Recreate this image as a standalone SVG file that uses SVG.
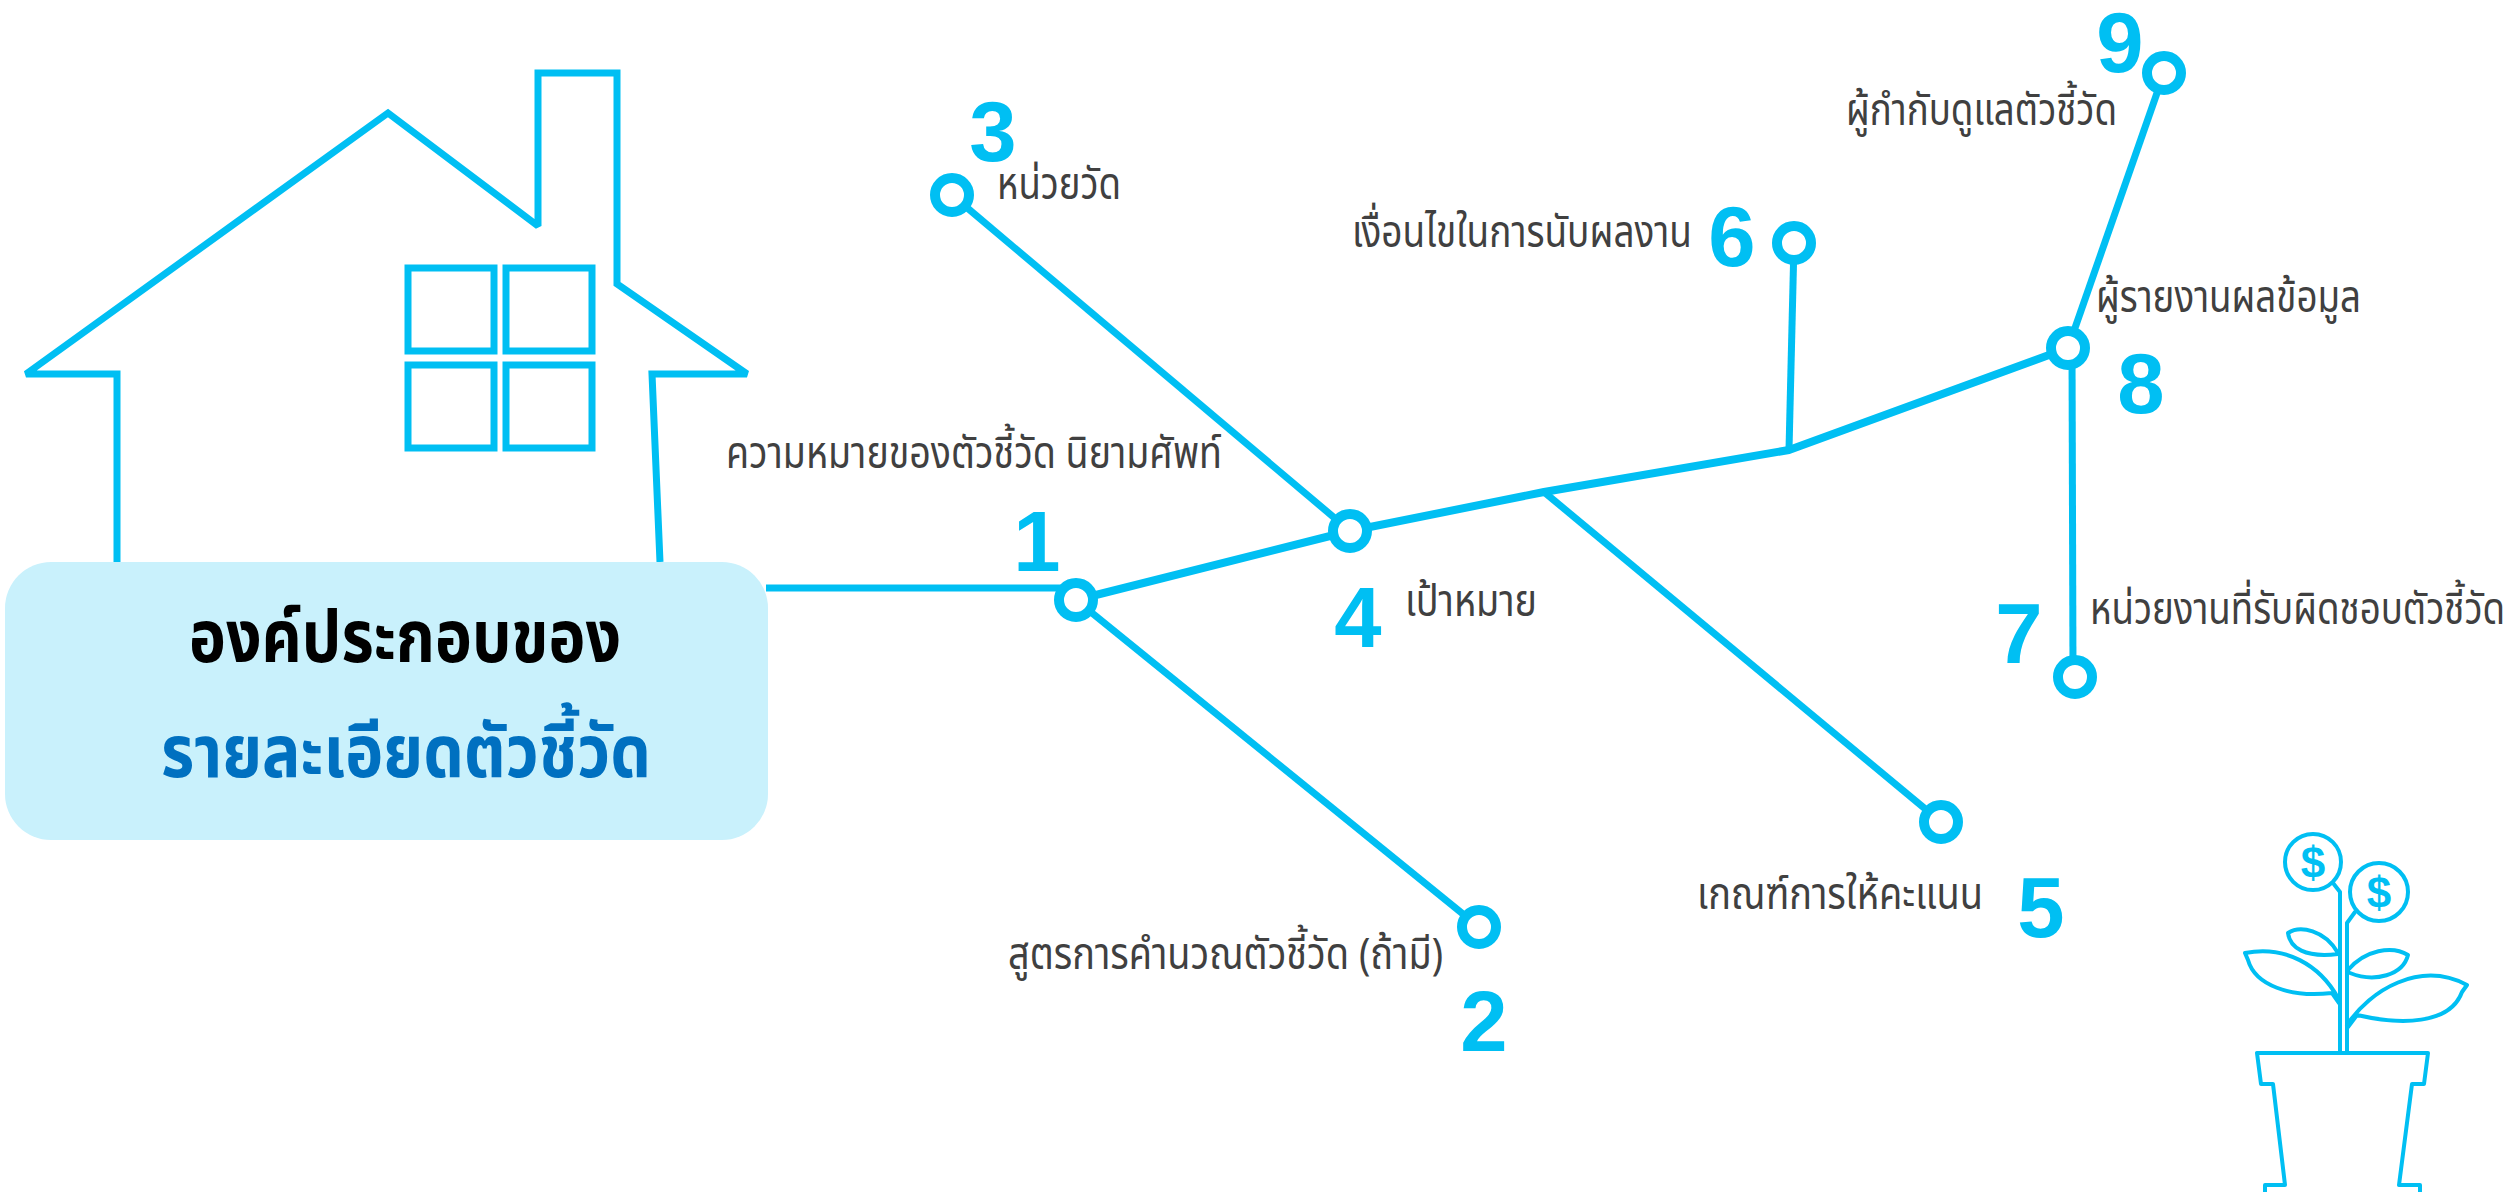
<svg xmlns="http://www.w3.org/2000/svg" width="2519" height="1192" viewBox="0 0 2519 1192">
  <style>
    .ln { fill: none; stroke: #00BFF3; stroke-width: 7; stroke-linecap: butt; stroke-linejoin: miter; stroke-miterlimit: 2; }
    .main { fill: none; stroke: #00BFF3; stroke-width: 8; stroke-linejoin: round; }
    .ring { fill: #FFFFFF; stroke: #00BFF3; stroke-width: 10; }
    .num { font-family: "Liberation Sans", Arial, sans-serif; font-weight: bold; font-size: 85px; fill: #00BFF3; text-anchor: middle; }
    .lbl { font-family: "Noto Sans Thai", "Noto Sans", "Liberation Sans", sans-serif; font-size: 44px; fill: #404040; }
    .ttl { font-family: "Noto Sans Thai", "Noto Sans", "Liberation Sans", sans-serif; font-weight: bold; font-size: 72px; text-anchor: middle; }
    .icon { fill: none; stroke: #00BFF3; stroke-width: 4; stroke-linejoin: round; stroke-linecap: round; }
  </style>

  <!-- house outline -->
  <g id="house">
    <path class="ln" d="M117,562 L117,374 L26,374 L388,113 L538,226 L538,73 L617,73 L617,284 L747,374 L652,374 L660,562"/>
    <rect class="ln" x="408" y="268" width="86" height="83"/>
    <rect class="ln" x="506" y="268" width="86" height="83"/>
    <rect class="ln" x="408" y="365" width="86" height="83"/>
    <rect class="ln" x="506" y="365" width="86" height="83"/>
  </g>

  <!-- connectors -->
  <g id="connectors">
    <path class="ln" d="M766,588 L1064,588"/>
    <path class="ln" d="M1076,600 L1479,927"/>
    <path class="ln" d="M952,195 L1350,531"/>
    <path class="main" d="M1076,600 L1350,531 L1544,492 L1789,450 L2068,348"/>
    <path class="ln" d="M1544,492 L1941,822"/>
    <path class="ln" d="M1789,450 L1794,243"/>
    <path class="ln" d="M2068,348 L2164,73"/>
    <path class="ln" d="M2072,348 L2073,677"/>
  </g>

  <!-- title box -->
  <g id="title">
    <rect x="5" y="562" width="763" height="278" rx="46" ry="46" fill="#C9F1FC"/>
    <text class="ttl" x="405" y="662" fill="#000000" textLength="432" lengthAdjust="spacingAndGlyphs">องค์ประกอบของ</text>
    <text class="ttl" x="406" y="777" fill="#0070C0" textLength="490" lengthAdjust="spacingAndGlyphs">รายละเอียดตัวชี้วัด</text>
  </g>

  <g id="node1">
    <circle class="ring" cx="1076" cy="600" r="17"/>
    <text class="num" x="1037" y="571">1</text>
    <text class="lbl" x="726" y="468" textLength="496" lengthAdjust="spacingAndGlyphs">ความหมายของตัวชี้วัด นิยามศัพท์</text>
  </g>

  <g id="node2">
    <circle class="ring" cx="1479" cy="927" r="17"/>
    <text class="num" x="1484" y="1051">2</text>
    <text class="lbl" x="1008" y="969" textLength="435" lengthAdjust="spacingAndGlyphs">สูตรการคำนวณตัวชี้วัด (ถ้ามี)</text>
  </g>

  <g id="node3">
    <circle class="ring" cx="952" cy="195" r="17"/>
    <text class="num" x="993" y="161">3</text>
    <text class="lbl" x="997" y="199" textLength="124" lengthAdjust="spacingAndGlyphs">หน่วยวัด</text>
  </g>

  <g id="node4">
    <circle class="ring" cx="1350" cy="531" r="17"/>
    <text class="num" x="1358" y="647">4</text>
    <text class="lbl" x="1405" y="616" textLength="132" lengthAdjust="spacingAndGlyphs">เป้าหมาย</text>
  </g>

  <g id="node5">
    <circle class="ring" cx="1941" cy="822" r="17"/>
    <text class="num" x="2041" y="937">5</text>
    <text class="lbl" x="1697" y="909" textLength="286" lengthAdjust="spacingAndGlyphs">เกณฑ์การให้คะแนน</text>
  </g>

  <g id="node6">
    <circle class="ring" cx="1794" cy="243" r="17"/>
    <text class="num" x="1732" y="266">6</text>
    <text class="lbl" x="1352" y="247" textLength="340" lengthAdjust="spacingAndGlyphs">เงื่อนไขในการนับผลงาน</text>
  </g>

  <g id="node7">
    <circle class="ring" cx="2075" cy="677" r="17"/>
    <text class="num" x="2019" y="663">7</text>
    <text class="lbl" x="2090" y="624" textLength="415" lengthAdjust="spacingAndGlyphs">หน่วยงานที่รับผิดชอบตัวชี้วัด</text>
  </g>

  <g id="node8">
    <circle class="ring" cx="2068" cy="348" r="17"/>
    <text class="num" x="2141" y="413">8</text>
    <text class="lbl" x="2096" y="312" textLength="265" lengthAdjust="spacingAndGlyphs">ผู้รายงานผลข้อมูล</text>
  </g>

  <g id="node9">
    <circle class="ring" cx="2164" cy="73" r="17"/>
    <text class="num" x="2120" y="72">9</text>
    <text class="lbl" x="1846" y="125" textLength="271" lengthAdjust="spacingAndGlyphs">ผู้กำกับดูแลตัวชี้วัด</text>
  </g>

  <!-- money plant pot -->
  <g id="plant">
    <circle class="icon" cx="2313" cy="862" r="28"/>
    <circle class="icon" cx="2379" cy="892" r="29"/>
    <text x="2313" y="878" font-family="Liberation Sans, Arial, sans-serif" font-weight="bold" font-size="44" fill="#00BFF3" text-anchor="middle">$</text>
    <text x="2379" y="908" font-family="Liberation Sans, Arial, sans-serif" font-weight="bold" font-size="44" fill="#00BFF3" text-anchor="middle">$</text>
    <path class="icon" d="M2333,883 L2340,892 L2340,1053"/>
    <path class="icon" d="M2355,912 L2347,923 L2347,1053"/>
    <path class="icon" d="M2338,953 C2325,930 2300,925 2288,933 C2290,948 2305,958 2338,954"/>
    <path class="icon" d="M2338,998 C2320,965 2285,945 2245,953 L2248,960 C2255,985 2290,998 2332,993 L2339,1003"/>
    <path class="icon" d="M2348,970 C2365,950 2392,945 2408,955 C2403,975 2375,983 2350,973"/>
    <path class="icon" d="M2347,1025 C2370,990 2420,960 2467,985 L2462,992 C2450,1025 2400,1025 2357,1015 L2348,1027"/>
    <path class="icon" d="M2265,1196 L2265,1185 L2285,1185 L2273,1084 L2261,1084 L2257,1053 L2428,1053 L2424,1084 L2412,1084 L2399,1185 L2420,1185 L2420,1196"/>
  </g>
</svg>
